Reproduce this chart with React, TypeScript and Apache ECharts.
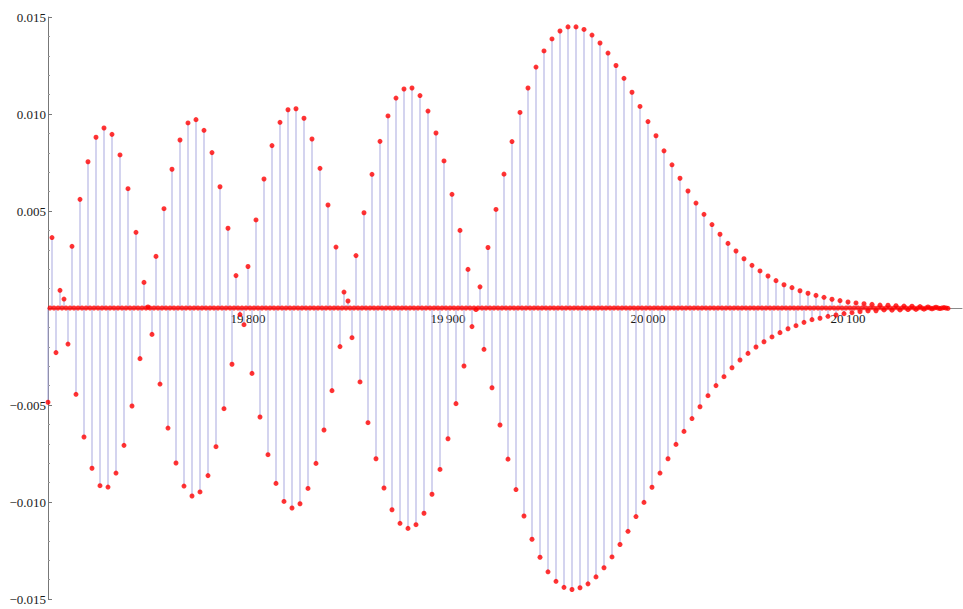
import React, { useEffect, useRef } from "react";
import * as echarts from "echarts";

// Sample positions: nonzero samples every 2 units starting at 19700,
// zero-valued samples in between (odd positions)
const X_START = 19700;
const X_STEP = 2;
const X_END = 20150;

// Values, in order of x (19700, 19702, ...)
const beat1 = [
  -0.00486, 0.00363, -0.0023, 0.00091, 0.00046, -0.00186, 0.00318, -0.00445, 0.0056, -0.00665,
  0.00754, -0.00826, 0.0088, -0.00916, 0.00928, -0.00923, 0.00895, -0.00851, 0.00789, -0.00708,
  0.00615, -0.00505, 0.0039, -0.00261, 0.00132,
];
const beat2 = [
  0.00005, -0.00136, 0.00266, -0.00392, 0.00512, -0.00619, 0.00715, -0.00799, 0.00866, -0.00918,
  0.00954, -0.00969, 0.00971, -0.00948, 0.00916, -0.00864, 0.00801, -0.00715, 0.00625, -0.00519,
  0.00411, -0.0029, 0.00167, -0.00034,
];
const beat3 = [
  -0.00086, 0.00214, -0.00337, 0.00454, -0.00562, 0.00665, -0.00756, 0.00837, -0.00904, 0.00957,
  -0.00997, 0.01022, -0.01031, 0.01027, -0.01009, 0.00978, -0.0093, 0.00871, -0.00801, 0.0072,
  -0.00629, 0.00531, -0.00426, 0.00314, -0.00199, 0.00082,
];
const beat4 = [
  0.00036, -0.00153, 0.0027, -0.00381, 0.00491, -0.00591, 0.00689, -0.00777, 0.00859, -0.00928,
  0.0099, -0.0104, 0.01082, -0.0111, 0.01129, -0.01136, 0.01134, -0.01117, 0.01095, -0.01058,
  0.01015, -0.0096, 0.00902, -0.00832, 0.00758, -0.00674, 0.00586, -0.00493, 0.004, -0.00299,
  0.00199, -0.00096,
];
const beat5 = [
  -0.00008, 0.00109, -0.00213, 0.00312, -0.00411, 0.00508, -0.00603, 0.0069, -0.00779, 0.00858,
  -0.00936, 0.01008, -0.01072, 0.01134, -0.01192, 0.01242, -0.01285, 0.01325, -0.0136, 0.01387,
  -0.01409, 0.01428, -0.0144, 0.01449, -0.01451, 0.01449, -0.01442, 0.01436, -0.01422, 0.01407,
  -0.01386, 0.01366, -0.01339, 0.01314, -0.01283, 0.0125, -0.01219, 0.01184, -0.01151, 0.01112,
  -0.01075, 0.01039, -0.01002, 0.00961, -0.00924, 0.00888, -0.00851, 0.0081, -0.00777, 0.00738,
  -0.00703, 0.00669, -0.00636, 0.00603, -0.0057, 0.00541,
];
const tail = [
  -0.00509, 0.00483, -0.00452, 0.0043, -0.004, 0.0038, -0.00354, 0.00333, -0.00308, 0.00294,
  -0.00268, 0.00254, -0.00234, 0.0022, -0.00201, 0.00191, -0.00174, 0.00165, -0.00149, 0.00141,
  -0.00127, 0.0012, -0.00107, 0.00105, -0.00091, 0.00089, -0.00074, 0.00076, -0.0006, 0.00065,
  -0.00053, 0.00055, -0.00043, 0.00045, -0.00036, 0.00038, -0.00029, 0.00031, -0.00024, 0.00026,
  -0.00019, 0.00022, -0.00015, 0.00019, -0.00014, 0.00015, -0.0001, 0.00014, -0.00011, 0.00012,
  -0.0001, 0.0001, -0.00008, 0.00009, -0.00007, 0.00007, -0.00006, 0.00005, -0.00004, 0.00004,
  -0.00003, 0.00002, -0.00002,
];
const ZERO_VALUE = 0;

const X_TICKS = [19800, 19900, 20000, 20100];
const Y_TICKS = [-0.015, -0.01, -0.005, 0.005, 0.01, 0.015];

const Y_MIN = -0.015;
const Y_MAX = 0.015;
const GRID_TOP = 17;
const GRID_BOTTOM = 10;
const CHART_H = 609;

export default function App() {
  const ref = useRef<HTMLDivElement>(null);
  useEffect(() => {
    if (!ref.current) return;
    const chart = echarts.init(ref.current, undefined, { renderer: "svg" });
    const samples = [...beat1, ...beat2, ...beat3, ...beat4, ...beat5, ...tail];
    const nonzero = samples.map((v, i) => [X_START + X_STEP * i, v]);
    const zeros: number[][] = [];
    for (let x = X_START + 1; x < X_END; x += X_STEP) zeros.push([x, ZERO_VALUE]);

    // move the x axis from the bottom of the grid up to y = 0
    const gridH = CHART_H - GRID_TOP - GRID_BOTTOM;
    const zeroOffset = -gridH * (0 - Y_MIN) / (Y_MAX - Y_MIN);

    const font = "Liberation Serif";
    chart.setOption({
      animation: false,
      backgroundColor: "#ffffff",
      grid: { left: 48, right: 1, top: GRID_TOP, bottom: GRID_BOTTOM, containLabel: false },
      xAxis: {
        type: "value",
        min: 19700,
        max: 20157,
        interval: 100,
        offset: zeroOffset,
        splitLine: { show: false },
        axisLine: { onZero: false, lineStyle: { color: "#8a8a8a", width: 1 } },
        axisTick: { show: false },
        axisLabel: {
          margin: 4,
          color: "#1a1a1a",
          fontFamily: font,
          fontSize: 13,
          showMinLabel: false,
          showMaxLabel: false,
          formatter: (v: number) => {
            if (!X_TICKS.includes(v)) return "";
            const s = String(v);
            return s.slice(0, 2) + "\u2009" + s.slice(2);
          },
        },
      },
      yAxis: {
        type: "value",
        min: Y_MIN,
        max: Y_MAX,
        interval: 0.005,
        splitLine: { show: false },
        axisLine: { lineStyle: { color: "#777", width: 1 } },
        axisTick: { show: true, inside: true, length: 4, lineStyle: { color: "#777" } },
        minorTick: { show: true, splitNumber: 5, length: 2, lineStyle: { color: "#999" } },
        axisLabel: {
          margin: 2,
          color: "#1a1a1a",
          fontFamily: font,
          fontSize: 13,
          formatter: (v: number) => {
            const r = Math.round(v * 1000) / 1000;
            if (!Y_TICKS.some((t) => Math.abs(t - r) < 1e-9)) return "";
            return (r < 0 ? "\u2212" : "") + Math.abs(r).toFixed(3);
          },
        },
      },
      series: [
        {
          type: "bar",
          data: nonzero,
          barWidth: 1,
          itemStyle: { color: "#a9a9e0" },
          z: 1,
          silent: true,
        },
        {
          type: "scatter",
          data: zeros,
          symbolSize: 5,
          itemStyle: { color: "#ff0000" },
          z: 3,
          silent: true,
        },
        {
          type: "scatter",
          data: nonzero,
          symbolSize: 5,
          itemStyle: { color: "#ff0000" },
          z: 4,
          silent: true,
        },
      ],
    });
    return () => chart.dispose();
  }, []);
  return (
    <div
      ref={ref}
      style={{ position: "fixed", left: 0, top: 0, width: 963, height: 609, background: "#fff" }}
    />
  );
}
